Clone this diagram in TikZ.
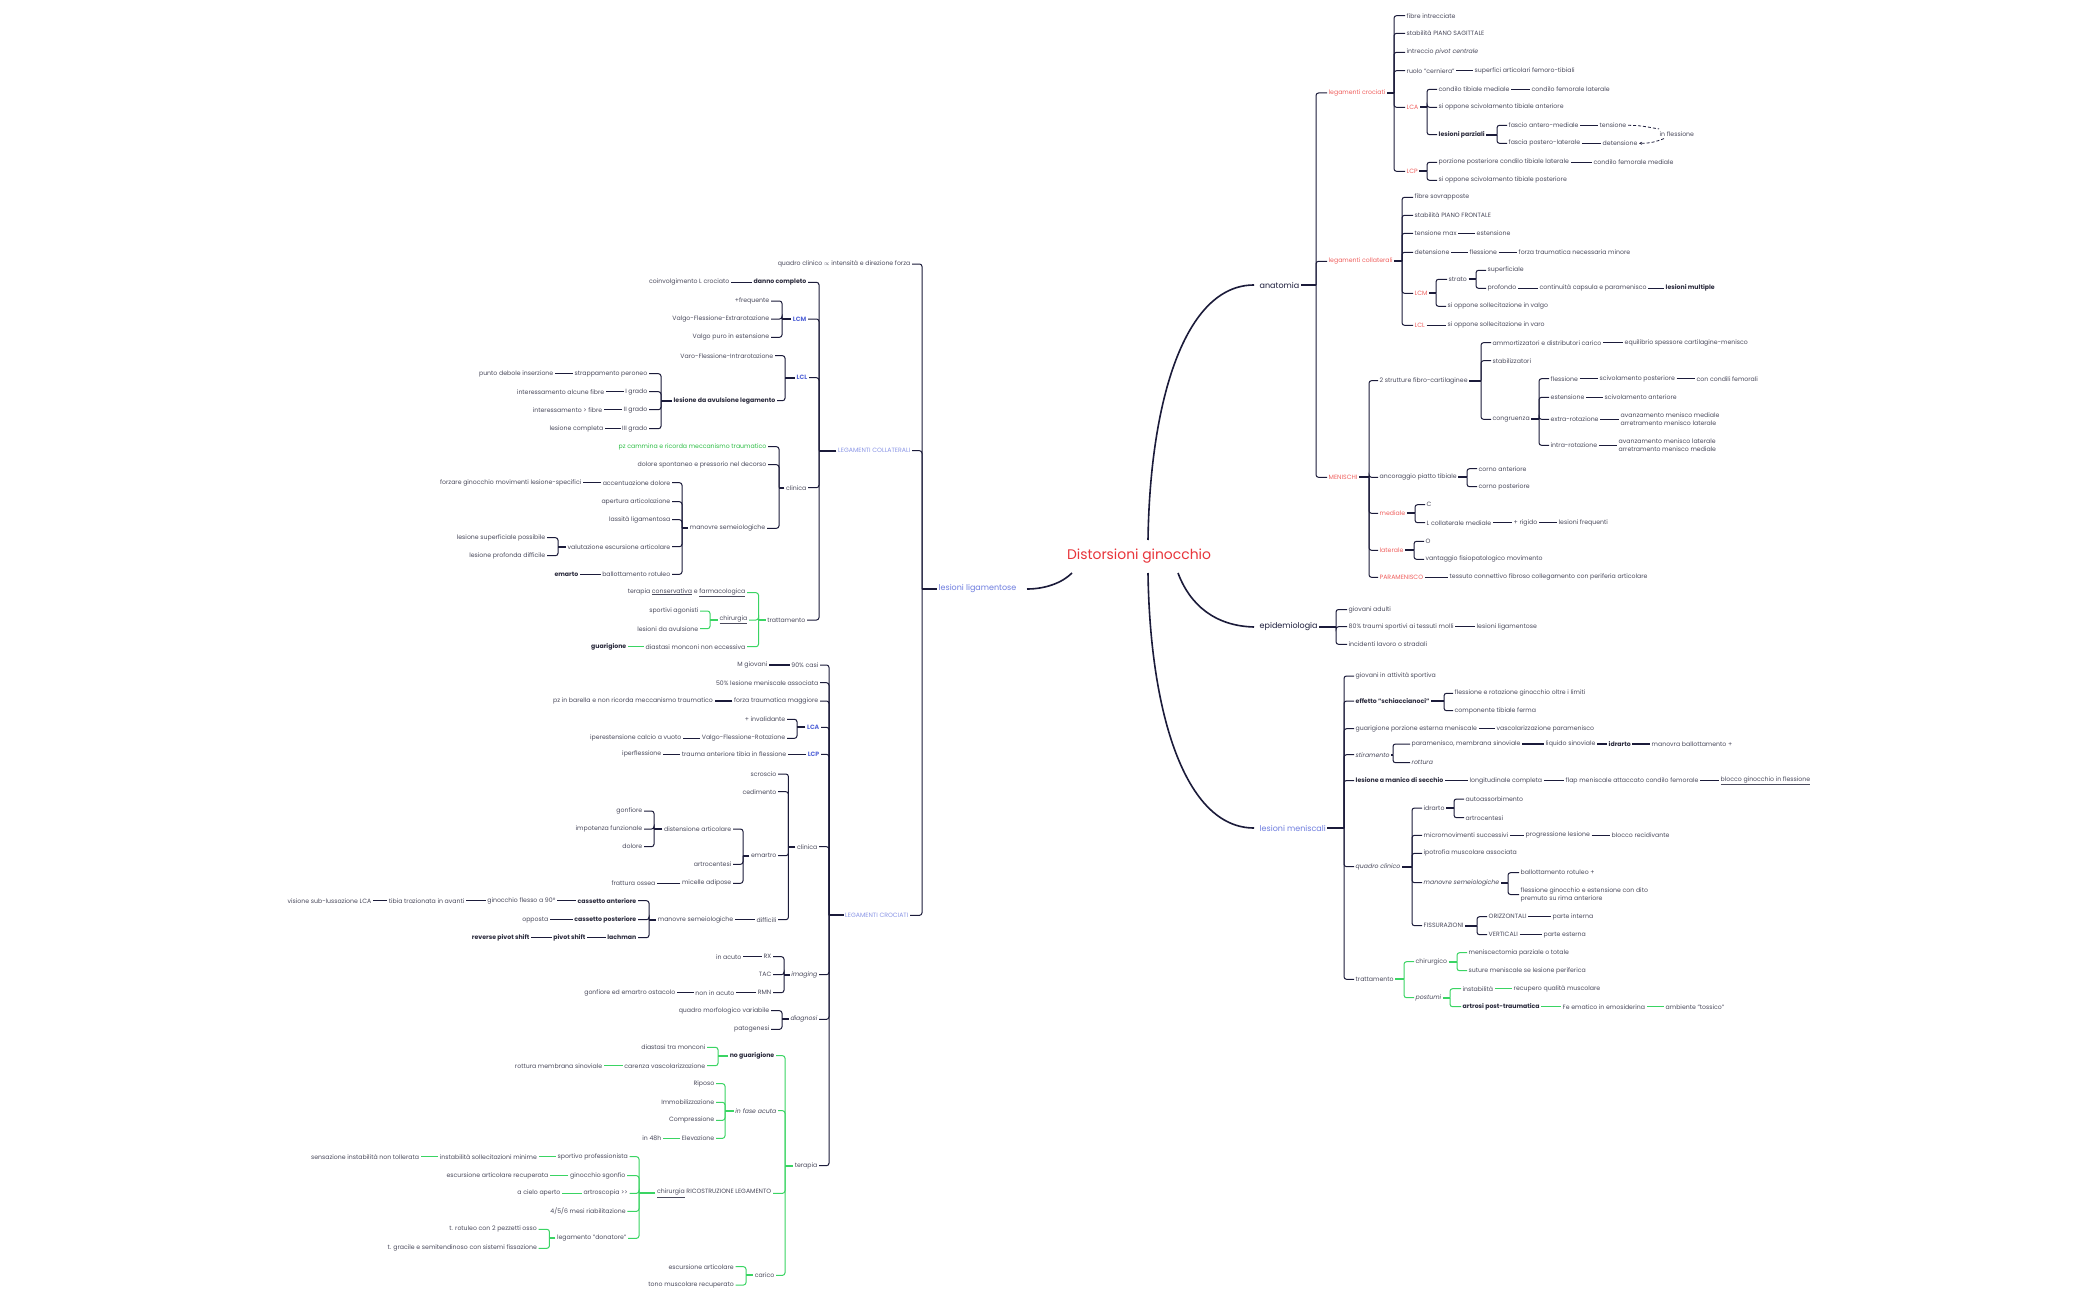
\documentclass[tikz,border=0pt]{standalone}
\usepackage{fontspec}
\setmainfont{Poppins}
\usetikzlibrary{arrows.meta}
\definecolor{navy}{HTML}{1B1B3A}
\definecolor{tx}{HTML}{4A4A5C}
\definecolor{txd}{HTML}{2A2A3C}
\definecolor{redt}{HTML}{F0605E}
\definecolor{redm}{HTML}{E8353B}
\definecolor{blut}{HTML}{6E7DDF}
\definecolor{blul}{HTML}{8A95E6}
\definecolor{blub}{HTML}{5465D8}
\definecolor{grn}{HTML}{3AD463}
\definecolor{grt}{HTML}{2DBE45}
\newcommand\fs{\fontsize{6.2}{8}\selectfont}
\newcommand\fbr{\fontsize{8}{10}\selectfont}
\newcommand\ftt{\fontsize{13.9}{16}\selectfont}
\newcommand\RN[5][]{\node[R,#1] (#2) at (#3,#4) {#5};}
\newcommand\LN[5][]{\node[L,#1] (#2) at (#3,#4) {#5};}
\newcommand\RC[3][]{\draw[ln,#1] (#2.east) -- (#3.west);}
\newcommand\LC[3][]{\draw[ln,#1] (#2.west) -- (#3.east);}
\newcommand\RB[4][]{\draw[stub,#1] (#2.east) -- (#2.east -| #3,0);
  \foreach \ch in {#4}{\draw[br,#1] (#2.east -| #3,0) |- (\ch.west);}}
\newcommand\LB[4][]{\draw[stub,#1] (#2.west) -- (#2.west -| #3,0);
  \foreach \ch in {#4}{\draw[br,#1] (#2.west -| #3,0) |- (\ch.east);}}
\tikzset{
 R/.style={anchor=west, font=\fs, text=tx, inner xsep=1.5pt, inner ysep=1pt},
 L/.style={anchor=east, font=\fs, text=tx, inner xsep=1.5pt, inner ysep=1pt},
 rd/.style={text=redt},
 bl/.style={text=blul},
 bb/.style={text=blub, font=\fs\bfseries},
 bd/.style={font=\fs\bfseries, text=txd},
 it/.style={font=\fs\itshape},
 gt/.style={text=grt},
 br/.style={draw=navy, line width=1pt, rounded corners=2.5pt},
 stub/.style={draw=navy, line width=2pt},
 ln/.style={draw=navy, line width=1.4pt},
 gr/.style={draw=grn},
 mainl/.style={draw=navy, line width=1.6pt},
 dsh/.style={draw=navy, line width=0.8pt, dash pattern=on 3pt off 2pt},
}
\begin{document}
\begin{tikzpicture}[x=1pt,y=-1pt]
\useasboundingbox (0,0) rectangle (2099,1300);
\fill[white] (0,0) rectangle (2099,1300);

% ---------- root and main branches
\node[font=\ftt, text=redm, inner sep=1pt] (root) at (1139,556) {Distorsioni ginocchio};
\node[R, font=\fbr, text=navy] (anat) at (1258,285) {anatomia};
\node[R, font=\fbr, text=navy] (epid) at (1258,627) {epidemiologia};
\node[R, font=\fbr, text=blut] (lmen) at (1258,828) {lesioni meniscali};
\node[L, font=\fbr, text=blut] (llig) at (1018,589) {lesioni ligamentose};

\draw[mainl] ([xshift=9pt,yshift=16pt]root.center) .. controls (1150,400) and (1185,285) .. ([xshift=-4pt]anat.west);
\draw[mainl] ([xshift=9pt,yshift=-17pt]root.center) .. controls (1150,713) and (1185,828) .. ([xshift=-4pt]lmen.west);
\draw[mainl] ([xshift=39pt,yshift=-17pt]root.center) .. controls (1190,605) and (1215,626) .. ([xshift=-4pt]epid.west);
\draw[mainl] ([xshift=-67pt,yshift=-17pt]root.center) .. controls (1062,583) and (1045,589) .. ([xshift=9pt]llig.east);

% ---------- anatomia
\RN[rd]{lcr}{1327}{93}{legamenti crociati}
\RN[rd]{lco}{1327}{261.3}{legamenti collaterali}
\RN[rd]{men}{1327}{477.3}{MENISCHI}
\RB{anat}{1316}{lcr,lco,men}

\RN{a1}{1405}{15.7}{fibre intrecciate}
\RN{a2}{1405}{33.3}{stabilità PIANO SAGITTALE}
\RN{a3}{1405}{52.3}{intreccio \textit{pivot centrale}}
\RN{a4}{1405}{70.7}{ruolo "cerniera"}
\RN{a4b}{1473}{70.7}{superfici articolari femoro-tibiali}
\RN[rd]{lca}{1405}{107.3}{LCA}
\RN[rd]{lcp}{1405}{171.3}{LCP}
\RB{lcr}{1394}{a1,a2,a3,a4,lca,lcp}
\RC{a4}{a4b}

\RN{a5}{1437}{89.3}{condilo tibiale mediale}
\RN{a5b}{1530}{89.3}{condilo femorale laterale}
\RN{a6}{1437}{107.3}{si oppone scivolamento tibiale anteriore}
\RN[bd]{a7}{1437}{134.7}{lesioni parziali}
\RB{lca}{1427}{a5,a6,a7}
\RC{a5}{a5b}
\RN{a8}{1507}{125.3}{fascio antero-mediale}
\RN{a8b}{1598}{125.3}{tensione}
\RN{a9}{1507}{143.3}{fascia postero-laterale}
\RN{a9b}{1601}{143.3}{detensione}
\RB{a7}{1497}{a8,a9}
\RC{a8}{a8b}
\RC{a9}{a9b}
\RN{infl}{1658}{134.5}{in flessione}
\draw[dsh] (a8b.east) .. controls +(15,0) and +(-8,-1) .. ([xshift=1pt,yshift=2pt]infl.north west);
\draw[dsh,-{Stealth[length=3pt,width=3pt]}] ([xshift=6pt,yshift=-0.5pt]infl.south west) .. controls +(-8,3) and +(12,0) .. (a9b.east);

\RN{b1}{1437}{162.3}{porzione posteriore condilo tibiale laterale}
\RN{b1b}{1592}{162.3}{condilo femorale mediale}
\RN{b2}{1437}{180.3}{si oppone scivolamento tibiale posteriore}
\RB{lcp}{1427}{b1,b2}
\RC{b1}{b1b}

\RN{c1}{1413}{197.3}{fibre sovrapposte}
\RN{c2}{1413}{215.3}{stabilità PIANO FRONTALE}
\RN{c3}{1413}{233.3}{tensione max}
\RN{c3b}{1475}{233.3}{estensione}
\RN{c4}{1413}{252.3}{detensione}
\RN{c4b}{1468}{252.3}{flessione}
\RN{c4c}{1517}{252.3}{forza traumatica necessaria minore}
\RN[rd]{lcm}{1413}{293.3}{LCM}
\RN[rd]{lcl}{1413}{325.3}{LCL}
\RB{lco}{1402}{c1,c2,c3,c4,lcm,lcl}
\RC{c3}{c3b}
\RC{c4}{c4b}
\RC{c4b}{c4c}
\RN{strato}{1447}{279.3}{strato}
\RN{c5}{1446}{306.3}{si oppone sollecitazione in valgo}
\RB{lcm}{1436}{strato,c5}
\RN{c6}{1486}{270.3}{superficiale}
\RN{c7}{1486}{288.3}{profondo}
\RN{c7b}{1538}{288.3}{continuità capsula e paramenisco}
\RN[bd]{c7c}{1664}{288.3}{lesioni multiple}
\RB{strato}{1476}{c6,c7}
\RC{c7}{c7b}
\RC{c7b}{c7c}
\RN{c8}{1446}{325.3}{si oppone sollecitazione in varo}
\RC{lcl}{c8}

\RN{m1}{1378}{380.7}{2 strutture fibro-cartilaginee}
\RN{m2}{1378}{477.3}{ancoraggio piatto tibiale}
\RN[rd]{med}{1378}{513.3}{mediale}
\RN[rd]{lat}{1378}{550.3}{laterale}
\RN[rd]{para}{1378}{577.3}{PARAMENISCO}
\RN{parab}{1448}{577.3}{tessuto connettivo fibroso collegamento con periferia articolare}
\RB{men}{1369}{m1,m2,med,lat,para}
\RC{para}{parab}
\RN{m3}{1491}{342.7}{ammortizzatori e distributori carico}
\RN{m3b}{1623}{342.7}{equilibrio spessore cartilagine-menisco}
\RN{m4}{1491}{360.7}{stabilizzatori}
\RN{cong}{1491}{419.3}{congruenza}
\RB{m1}{1481}{m3,m4,cong}
\RC{m3}{m3b}
\RN{m5}{1549}{378.7}{flessione}
\RN{m5b}{1598}{378.7}{scivolamento posteriore}
\RN{m5c}{1695}{378.7}{con condili femorali}
\RN{m6}{1549}{397.3}{estensione}
\RN{m6b}{1603}{397.3}{scivolamento anteriore}
\RN{m7}{1549}{419.3}{extra-rotazione}
\RN[align=left]{m7b}{1619}{419.3}{avanzamento menisco mediale\\arretramento menisco laterale}
\RN{m8}{1549}{445.3}{intra-rotazione}
\RN[align=left]{m8b}{1617}{445.3}{avanzamento menisco laterale\\arretramento menisco mediale}
\RB{cong}{1539}{m5,m6,m7,m8}
\RC{m5}{m5b}
\RC{m5b}{m5c}
\RC{m6}{m6b}
\RC{m7}{m7b}
\RC{m8}{m8b}
\RN{m9}{1477}{468.7}{corno anteriore}
\RN{m10}{1477}{486.7}{corno posteriore}
\RB{m2}{1467}{m9,m10}
\RN{m11}{1425}{504.7}{C}
\RN{m12}{1425}{522.7}{L collaterale mediale}
\RN{m12b}{1512}{522.7}{+ rigido}
\RN{m12c}{1557}{522.7}{lesioni frequenti}
\RB{med}{1415}{m11,m12}
\RC{m12}{m12b}
\RC{m12b}{m12c}
\RN{m13}{1424}{541.3}{O}
\RN{m14}{1424}{559.3}{vantaggio fisiopatologico movimento}
\RB{lat}{1414}{m13,m14}

% ---------- epidemiologia
\RN{e1}{1347}{609.5}{giovani adulti}
\RN{e2}{1347}{626.7}{80\% traumi sportivi ai tessuti molli}
\RN{e2b}{1475}{626.7}{lesioni ligamentose}
\RN{e3}{1347}{644.3}{incidenti lavoro o stradali}
\RB{epid}{1336}{e1,e2,e3}
\RC{e2}{e2b}

% ---------- lesioni meniscali
\RN{n1}{1354}{676}{giovani in attività sportiva}
\RN[bd]{n2}{1354}{701}{effetto "schiaccianoci"}
\RN{n3}{1354}{728.7}{guarigione porzione esterna meniscale}
\RN{n3b}{1495}{728.7}{vascolarizzazione paramenisco}
\RN[it]{n4}{1354}{754.7}{stiramento}
\RN[bd]{n5}{1354}{780.5}{lesione a manico di secchio}
\RN{n5b}{1468}{780.5}{longitudinale completa}
\RN{n5c}{1564}{780.5}{flap meniscale attaccato condilo femorale}
\RN{n5d}{1719}{780.5}{\underline{blocco ginocchio in flessione}}
\RN[it]{qc}{1354}{866.7}{quadro clinico}
\RN{tr}{1354}{979.3}{trattamento}
\RB{lmen}{1344}{n1,n2,n3,n4,n5,qc,tr}
\RC{n3}{n3b}
\RC{n5}{n5b}
\RC{n5b}{n5c}
\RC{n5c}{n5d}
\RN{n6}{1453}{693.3}{flessione e rotazione ginocchio oltre i limiti}
\RN{n7}{1453}{710.7}{componente tibiale ferma}
\RB{n2}{1444}{n6,n7}
\RN{n8}{1410}{744}{paramenisco, membrana sinoviale}
\RN{n8b}{1544}{744}{liquido sinoviale}
\RN[bd]{n8c}{1607}{744}{idrarto}
\RN{n8d}{1650}{744}{manovra ballottamento +}
\RN[it]{n9}{1410}{762.7}{rottura}
\RB{n4}{1393}{n8,n9}
\RC{n8}{n8b}
\RC{n8b}{n8c}
\RC{n8c}{n8d}
\RN{idr}{1422}{808}{idrarto}
\RN{q2}{1422}{835.3}{micromovimenti successivi}
\RN{q2b}{1524}{835.3}{progressione lesione}
\RN{q2c}{1610}{835.3}{blocco recidivante}
\RN{q3}{1422}{853.3}{ipotrofia muscolare associata}
\RN[it]{q4}{1422}{882.7}{manovre semeiologiche}
\RN{fis}{1422}{925.7}{FISSURAZIONI}
\RB{qc}{1412}{idr,q2,q3,q4,fis}
\RC{q2}{q2b}
\RC{q2b}{q2c}
\RN{q5}{1464}{799}{autoassorbimento}
\RN{q6}{1464}{817.7}{artrocentesi}
\RB{idr}{1454}{q5,q6}
\RN{q7}{1519}{872.7}{ballottamento rotuleo +}
\RN[align=left]{q8}{1519}{894.5}{flessione ginocchio e estensione con dito\\premuto su rima anteriore}
\RB{q4}{1508}{q7,q8}
\RN{q9}{1487}{916.7}{ORIZZONTALI}
\RN{q9b}{1551}{916.7}{parte interna}
\RN{q10}{1487}{934.7}{VERTICALI}
\RN{q10b}{1542}{934.7}{parte esterna}
\RB{fis}{1477}{q9,q10}
\RC{q9}{q9b}
\RC{q10}{q10b}
\RN{chi}{1414}{961.7}{chirurgico}
\RN[it]{post}{1414}{997.7}{postumi}
\RB[gr]{tr}{1404}{chi,post}
\RN{t1}{1467}{952.7}{meniscectomia parziale o totale}
\RN{t2}{1467}{970.7}{suture meniscale se lesione periferica}
\RB[gr]{chi}{1457}{t1,t2}
\RN{t3}{1461}{988.7}{instabilità}
\RN{t3b}{1512}{988.7}{recupero qualità muscolare}
\RN[bd]{t4}{1461}{1006.7}{artrosi post-traumatica}
\RN{t4b}{1561}{1006.7}{Fe ematico in emosiderina}
\RN{t4c}{1664}{1006.7}{ambiente "tossico"}
\RB[gr]{post}{1450}{t3,t4}
\RC[gr]{t3}{t3b}
\RC[gr]{t4}{t4b}
\RC[gr]{t4b}{t4c}

% ---------- lesioni ligamentose
\LN{k1}{912}{264}{quadro clinico $\propto$ intensità e direzione forza}
\LN[bl]{lcoll}{912}{450.7}{LEGAMENTI COLLATERALI}
\LN[bl]{lcroc}{910}{915.3}{LEGAMENTI CROCIATI}
\LB{llig}{922}{k1,lcoll,lcroc}

% LEGAMENTI COLLATERALI
\LN[bd]{dc}{808}{282.3}{danno completo}
\LN{dc2}{731}{282.3}{coinvolgimento L crociato}
\LN[bb]{lcmL}{808}{319}{LCM}
\LN[bb]{lclL}{809}{377.7}{LCL}
\LN{cli1}{808}{487.7}{clinica}
\LN{trat1}{807}{620}{trattamento}
\LB{lcoll}{819}{dc,lcmL,lclL,cli1,trat1}
\LC{dc}{dc2}
\LN{f1}{771}{301}{+frequente}
\LN{f2}{771}{319}{Valgo-Flessione-Extrarotazione}
\LN{f3}{771}{337.3}{Valgo puro in estensione}
\LB{lcmL}{782}{f1,f2,f3}
\LN{g1}{775}{355.7}{Varo-Flessione-Intrarotazione}
\LN[bd]{avl}{777}{400.7}{lesione da avulsione legamento}
\LB{lclL}{785}{g1,avl}
\LN{h1}{649}{373.7}{strappamento peroneo}
\LN{h1b}{555}{373.7}{punto debole inserzione}
\LN{h2}{649}{391.7}{I grado}
\LN{h2b}{606}{391.7}{interessamento alcune fibre}
\LN{h3}{649}{409.7}{II grado}
\LN{h3b}{604}{409.7}{interessamento > fibre}
\LN{h4}{649}{428.7}{III grado}
\LN{h4b}{605}{428.7}{lesione completa}
\LB{avl}{661}{h1,h2,h3,h4}
\LC{h1}{h1b}
\LC{h2}{h2b}
\LC{h3}{h3b}
\LC{h4}{h4b}
\LN[gt]{p1}{768}{446.7}{pz cammina e ricorda meccanismo traumatico}
\LN{p2}{768}{464.7}{dolore spontaneo e pressorio nel decorso}
\LN{ms1}{767}{528.3}{manovre semeiologiche}
\LB{cli1}{779}{p1,p2,ms1}
\LN{s1}{672}{482.7}{accentuazione dolore}
\LN{s1b}{583}{482.7}{forzare ginocchio movimenti lesione-specifici}
\LN{s2}{672}{501.7}{apertura articolazione}
\LN{s3}{672}{519.7}{lassità ligamentosa}
\LN{ve}{672}{546.7}{valutazione escursione articolare}
\LN{s5}{672}{574.3}{ballottamento rotuleo}
\LN[bd]{s5b}{580}{574.3}{emarto}
\LB{ms1}{682}{s1,s2,s3,ve,s5}
\LC{s1}{s1b}
\LC{s5}{s5b}
\LN{v1}{547}{537.7}{lesione superficiale possibile}
\LN{v2}{547}{555.7}{lesione profonda difficile}
\LB{ve}{558}{v1,v2}
\LN{w1}{747}{592.7}{terapia \underline{conservativa} e \underline{farmacologica}}
\LN{chir1}{749}{620}{\underline{chirurgia}}
\LN{w3}{747}{646.7}{diastasi monconi non eccessiva}
\LN[bd]{w3b}{628}{646.7}{guarigione}
\LB[gr]{trat1}{758.5}{w1,chir1,w3}
\LC[gr]{w3}{w3b}
\LN{w4}{700}{611}{sportivi agonisti}
\LN{w5}{700}{628.7}{lesioni da avulsione}
\LB[gr]{chir1}{710}{w4,w5}

% LEGAMENTI CROCIATI
\LN{x1}{820}{665}{90\% casi}
\LN{x1b}{769}{665}{M giovani}
\LN{x2}{820}{682.7}{50\% lesione meniscale associata}
\LN{x3}{820}{701}{forza traumatica maggiore}
\LN{x3b}{714.5}{701}{pz in barella e non ricorda meccanismo traumatico}
\LN[bb]{lcaL}{821}{727.3}{LCA}
\LN[bb]{lcpL}{821}{754.3}{LCP}
\LN{y1}{788}{754.3}{trauma anteriore tibia in flessione}
\LN{y1b}{663}{754.3}{iperflessione}
\LN{cli2}{819}{846.7}{clinica}
\LN[it]{img}{819}{974.7}{imaging}
\LN[it]{dia}{819}{1019.3}{diagnosi}
\LN{ter}{819}{1165.7}{terapia}
\LB{lcroc}{829}{x1,x2,x3,lcaL,lcpL,cli2,img,dia,ter}
\LC{x1}{x1b}
\LC{x3}{x3b}
\LC{lcpL}{y1}
\LC{y1}{y1b}
\LN{z1}{787}{719.3}{+ invalidante}
\LN{z2}{787}{738.3}{Valgo-Flessione-Rotazione}
\LN{z2b}{683}{738.3}{iperestensione calcio a vuoto}
\LB{lcaL}{797}{z1,z2}
\LC{z2}{z2b}
\LN{sc}{778}{774}{scroscio}
\LN{ce}{778}{791.7}{cedimento}
\LN{ema}{778}{855.7}{emartro}
\LN{dif}{778}{919.7}{difficili}
\LN{ms2}{735}{919.7}{manovre semeiologiche}
\LB{cli2}{788.4}{sc,ce,ema,dif}
\LC{dif}{ms2}
\LN{da}{733}{829}{distensione articolare}
\LN{ar}{733}{864.3}{artrocentesi}
\LN{mi}{733}{883.3}{micelle adipose}
\LN{mib}{657}{883.3}{frattura ossea}
\LB{ema}{743}{da,ar,mi}
\LC{mi}{mib}
\LN{d1}{644}{811}{gonfiore}
\LN{d2}{644}{829}{impotenza funzionale}
\LN{d3}{644}{846.7}{dolore}
\LB{da}{654}{d1,d2,d3}
\LN[bd]{ca}{638}{900.7}{cassetto anteriore}
\LN{ca2}{557}{900.7}{ginocchio flesso a 90°}
\LN{ca3}{466}{900.7}{tibia trazionata in avanti}
\LN{ca4}{373}{900.7}{visione sub-lussazione LCA}
\LN[bd]{cp}{638}{919.7}{cassetto posteriore}
\LN{cp2}{550}{919.7}{opposta}
\LN[bd]{lach}{638}{937.7}{lachman}
\LN[bd]{la2}{587}{937.7}{pivot shift}
\LN[bd]{la3}{531}{937.7}{reverse pivot shift}
\LB{ms2}{649}{ca,cp,lach}
\LC{ca}{ca2}
\LC{ca2}{ca3}
\LC{ca3}{ca4}
\LC{cp}{cp2}
\LC{lach}{la2}
\LC{la2}{la3}
\LN{rx}{773}{956.7}{RX}
\LN{rx2}{743}{956.7}{in acuto}
\LN{tac}{773}{974.7}{TAC}
\LN{rmn}{773}{992.7}{RMN}
\LN{rm2}{736}{992.7}{non in acuto}
\LN{rm3}{677}{992.7}{gonfiore ed emartro ostacolo}
\LB{img}{784}{rx,tac,rmn}
\LC{rx}{rx2}
\LC{rmn}{rm2}
\LC{rm2}{rm3}
\LN{qm}{771}{1010.7}{quadro morfologico variabile}
\LN{pat}{771}{1029.3}{patogenesi}
\LB{dia}{782}{qm,pat}

\LN[bd]{ng}{776}{1055.7}{no guarigione}
\LN[it]{fa}{778}{1110.7}{in fase acuta}
\LN{ric}{773}{1193.3}{\underline{chirurgia} RICOSTRUZIONE LEGAMENTO}
\LN{car}{776}{1275.3}{carico}
\LB[gr]{ter}{785}{ng,fa,ric,car}
\LN{o1}{707}{1047.3}{diastasi tra monconi}
\LN{o2}{707}{1065.7}{carenza vascolarizzazione}
\LN{o2b}{604}{1065.7}{rottura membrana sinoviale}
\LB[gr]{ng}{718}{o1,o2}
\LC[gr]{o2}{o2b}
\LN{r1}{716}{1083.7}{Riposo}
\LN{r2}{716}{1102.3}{Immobilizzazione}
\LN{r3}{716}{1120.3}{Compressione}
\LN{r4}{716}{1138.3}{Elevazione}
\LN{r4b}{663}{1138.3}{in 48h}
\LB[gr]{fa}{725}{r1,r2,r3,r4}
\LC[gr]{r4}{r4b}
\LN{u1}{629.5}{1156.7}{sportivo professionista}
\LN{u1b}{538.6}{1156.7}{instabilità sollecitazioni minime}
\LN{u1c}{420.7}{1156.7}{sensazione instabilità non tollerata}
\LN{u2}{627}{1175.7}{ginocchio sgonfio}
\LN{u2b}{550}{1175.7}{escursione articolare recuperata}
\LN{u3}{629.5}{1193.3}{artroscopia >{}>}
\LN{u3b}{562}{1193.3}{a cielo aperto}
\LN{u4}{627.4}{1211.3}{4/5/6 mesi riabilitazione}
\LN{don}{628}{1238.3}{legamento "donatore"}
\LB[gr]{ric}{639}{u1,u2,u3,u4,don}
\LC[gr]{u1}{u1b}
\LC[gr]{u1b}{u1c}
\LC[gr]{u2}{u2b}
\LC[gr]{u3}{u3b}
\LN{u5}{538.6}{1229.3}{t. rotuleo con 2 pezzetti osso}
\LN{u6}{538.6}{1248.3}{t. gracile e semitendinoso con sistemi fissazione}
\LB[gr]{don}{549.4}{u5,u6}
\LN{u7}{735.5}{1266.7}{escursione articolare}
\LN{u8}{735.5}{1285}{tono muscolare recuperato}
\LB[gr]{car}{746}{u7,u8}
\end{tikzpicture}
\end{document}
